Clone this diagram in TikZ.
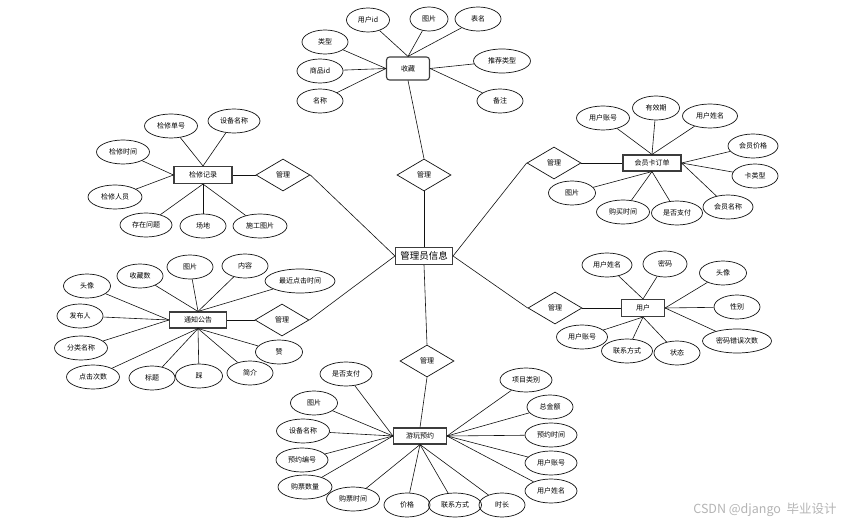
\documentclass[tikz,border=0pt]{standalone}
\usepackage{fontspec}
\setmainfont{Noto Sans CJK SC}
\usepackage{tikz}
\usetikzlibrary{shapes.geometric}
\definecolor{ink}{HTML}{111111}
\definecolor{framegray}{HTML}{3C3C3C}
\definecolor{markgray}{HTML}{B4B4B4}
\tikzset{
  entity/.style={rectangle, draw=framegray, line width=1.1pt, align=center, minimum height=16pt, minimum width=57pt, inner sep=1pt, font=\fontsize{7}{8}\selectfont, fill=white},
  mainent/.style={entity, minimum width=57pt, minimum height=17pt, font=\fontsize{9.5}{10}\selectfont},
  favent/.style={entity, rounded corners=3pt, minimum width=43pt, minimum height=23pt},
  attr/.style={ellipse, draw=ink, line width=0.7pt, minimum width=46pt, minimum height=24pt, inner sep=0pt, font=\fontsize{7}{8}\selectfont},
  rel/.style={diamond, draw=ink, line width=0.7pt, minimum width=54pt, minimum height=32pt, inner sep=0pt, font=\fontsize{7}{8}\selectfont},
  link/.style={draw=ink, line width=0.6pt}
}

\begin{document}
\begin{tikzpicture}[x=1pt, y=-1pt]
  \useasboundingbox (0,0) rectangle (864,526);
  % entities
  \node[mainent] (admin) at (424,256) {管理员信息};
  \node[favent] (fav) at (408,68.5) {收藏};
  \node[entity, minimum width=58pt, minimum height=17pt] (repair) at (203,175) {检修记录};
  \node[entity, minimum width=58pt] (card) at (652,163) {会员卡订单};
  \node[entity] (notice) at (198,320) {通知公告};
  \node[entity, minimum width=43pt, minimum height=17pt] (user) at (643,308) {用户};
  \node[entity, minimum width=53pt] (book) at (420,436) {游玩预约};
  % relations
  \node[rel] (mfav) at (424,175) {管理};
  \node[rel] (mrep) at (283,175) {管理};
  \node[rel] (mcard) at (554,163) {管理};
  \node[rel] (mnot) at (282,320) {管理};
  \node[rel] (muser) at (555,308) {管理};
  \node[rel] (mbook) at (427,361) {管理};
  % attributes of fav
  \node[attr, minimum width=43pt] (favuid) at (368,20) {用户id};
  \node[attr, minimum width=38pt] (favpic) at (429,19) {图片};
  \node[attr] (favtab) at (478,19) {表名};
  \node[attr] (favtype) at (325,42) {类型};
  \node[attr] (favgid) at (320,71) {商品id};
  \node[attr] (favname) at (320,101) {名称};
  \node[attr, minimum width=57pt] (favrec) at (502,61) {推荐类型};
  \node[attr] (favnote) at (500,101) {备注};
  % attributes of repair
  \node[attr, minimum width=53pt] (repno) at (171,126) {检修单号};
  \node[attr, minimum width=52pt] (repdev) at (234,121) {设备名称};
  \node[attr, minimum width=53pt] (reptime) at (123,152) {检修时间};
  \node[attr, minimum width=54pt] (repman) at (115,197) {检修人员};
  \node[attr, minimum width=52pt] (repprob) at (146,225) {存在问题};
  \node[attr] (repsite) at (203,226) {场地};
  \node[attr, minimum width=54pt] (reppic) at (260,226) {施工图片};
  % attributes of card
  \node[attr, minimum width=53pt] (cardacc) at (603,118) {用户账号};
  \node[attr, minimum width=47pt] (cardvalid) at (656,108) {有效期};
  \node[attr, minimum width=55pt] (cardname) at (710,116) {用户姓名};
  \node[attr, minimum width=50pt] (cardprice) at (753,146) {会员价格};
  \node[attr] (cardtype) at (755,176) {卡类型};
  \node[attr, minimum width=50pt] (cardvip) at (728,207) {会员名称};
  \node[attr, minimum width=51pt] (cardpaid) at (677,213) {是否支付};
  \node[attr, minimum width=53pt] (cardtime) at (623,212) {购买时间};
  \node[attr, minimum width=47pt] (cardpic) at (572,193) {图片};
  % attributes of notice
  \node[attr, minimum width=47pt] (nothead) at (87,286) {头像};
  \node[attr] (notfav) at (140,276) {收藏数};
  \node[attr] (notpic) at (190,267) {图片};
  \node[attr] (notcont) at (245,266) {内容};
  \node[attr, minimum width=70pt] (notlast) at (300,281) {最近点击时间};
  \node[attr] (notpub) at (80,316) {发布人};
  \node[attr, minimum width=53pt] (notcat) at (81,348) {分类名称};
  \node[attr, minimum width=53pt] (notclick) at (93,377) {点击次数};
  \node[attr] (nottitle) at (152,378) {标题};
  \node[attr, minimum width=47pt] (notdown) at (199,376) {踩};
  \node[attr] (notbrief) at (250,373) {简介};
  \node[attr, minimum width=47pt] (notlike) at (279,352) {赞};
  % attributes of user
  \node[attr, minimum width=50pt] (usrname) at (607,265) {用户姓名};
  \node[attr, minimum width=44pt, minimum height=26pt] (usrpwd) at (665,264) {密码};
  \node[attr, minimum width=47pt] (usrhead) at (723,273) {头像};
  \node[attr] (usrsex) at (737,307) {性别};
  \node[attr, minimum width=69pt] (usrerr) at (737,341) {密码错误次数};
  \node[attr] (usrstate) at (677,353) {状态};
  \node[attr, minimum width=51pt] (usrtel) at (627,351) {联系方式};
  \node[attr, minimum width=51pt] (usracc) at (582,337) {用户账号};
  % attributes of book
  \node[attr, minimum width=52pt] (bkpaid) at (346,374) {是否支付};
  \node[attr, minimum width=47pt] (bkpic) at (314,403) {图片};
  \node[attr, minimum width=53pt] (bkdev) at (303,431) {设备名称};
  \node[attr, minimum width=52pt] (bkno) at (302,460) {预约编号};
  \node[attr, minimum width=54pt] (bkqty) at (305,487) {购票数量};
  \node[attr, minimum width=53pt] (bktime) at (353,499) {购票时间};
  \node[attr] (bkprice) at (407,505) {价格};
  \node[attr, minimum width=53pt] (bktel) at (455,505) {联系方式};
  \node[attr] (bkdur) at (502,505) {时长};
  \node[attr, minimum width=52pt] (bkcat) at (526,380) {项目类别};
  \node[attr] (bksum) at (550,407) {总金额};
  \node[attr, minimum width=52pt] (bkdate) at (551,435) {预约时间};
  \node[attr, minimum width=52pt] (bkacc) at (551,463) {用户账号};
  \node[attr, minimum width=52pt] (bkname) at (551,491) {用户姓名};
  % watermark
  \node[text=markgray, font=\fontsize{12.5}{13}\selectfont] (mark) at (765,510) {CSDN @django\ \ 毕业设计};
  % links of fav
  \draw[link] (favuid) -- (fav.north);
  \draw[link] (favpic) -- (fav.north);
  \draw[link] (favtab) -- (fav.north);
  \draw[link] (favtype) -- (fav.west);
  \draw[link] (favgid) -- (fav.west);
  \draw[link] (favname) -- (fav.west);
  \draw[link] (favrec) -- (fav.east);
  \draw[link] (favnote) -- (fav.east);
  \draw[link] (fav.south) -- (mfav.north);
  \draw[link] (mfav.south) -- (admin.north);
  % links of repair
  \draw[link] (repno) -- (repair.north);
  \draw[link] (repdev) -- (repair.north);
  \draw[link] (reptime) -- (repair.west);
  \draw[link] (repman) -- (repair.west);
  \draw[link] (repprob) -- (repair.south);
  \draw[link] (repsite) -- (repair.south);
  \draw[link] (reppic) -- (repair.south);
  \draw[link] (repair.east) -- (mrep.west);
  \draw[link] (mrep.east) -- (admin.west);
  % links of card
  \draw[link] (cardacc) -- (card.north);
  \draw[link] (cardvalid) -- (card.north);
  \draw[link] (cardname) -- (card.north);
  \draw[link] (cardprice) -- (card.east);
  \draw[link] (cardtype) -- (card.east);
  \draw[link] (cardvip) -- (card.east);
  \draw[link] (cardpic) -- (card.south);
  \draw[link] (cardtime) -- (card.south);
  \draw[link] (cardpaid) -- (card.south);
  \draw[link] (card.west) -- (mcard.east);
  \draw[link] (mcard.west) -- (admin.east);
  % links of notice
  \draw[link] (notfav) -- (notice.north);
  \draw[link] (notpic) -- (notice.north);
  \draw[link] (notcont) -- (notice.north);
  \draw[link] (notlast) -- (notice.north);
  \draw[link] (nothead) -- (notice.west);
  \draw[link] (notpub) -- (notice.west);
  \draw[link] (notcat) -- (notice.west);
  \draw[link] (notclick) -- (notice.south);
  \draw[link] (nottitle) -- (notice.south);
  \draw[link] (notdown) -- (notice.south);
  \draw[link] (notbrief) -- (notice.south);
  \draw[link] (notlike) -- (notice.south);
  \draw[link] (notice.east) -- (mnot.west);
  \draw[link] (mnot.east) -- (admin.west);
  % links of user
  \draw[link] (usrname) -- (user.north);
  \draw[link] (usrpwd) -- (user.north);
  \draw[link] (usrhead) -- (user.east);
  \draw[link] (usrsex) -- (user.east);
  \draw[link] (usrerr) -- (user.east);
  \draw[link] (usracc) -- (user.south);
  \draw[link] (usrtel) -- (user.south);
  \draw[link] (usrstate) -- (user.south);
  \draw[link] (user.west) -- (muser.east);
  \draw[link] (muser.west) -- (admin.east);
  % links of book
  \draw[link] (bkpaid) -- (book.west);
  \draw[link] (bkpic) -- (book.west);
  \draw[link] (bkdev) -- (book.west);
  \draw[link] (bkno) -- (book.west);
  \draw[link] (bkqty) -- (book.west);
  \draw[link] (bktime) -- (book.south);
  \draw[link] (bkprice) -- (book.south);
  \draw[link] (bktel) -- (book.south);
  \draw[link] (bkdur) -- (book.south);
  \draw[link] (bkcat) -- (book.east);
  \draw[link] (bksum) -- (book.east);
  \draw[link] (bkdate) -- (book.east);
  \draw[link] (bkacc) -- (book.east);
  \draw[link] (bkname) -- (book.east);
  \draw[link] (book.north) -- (mbook.south);
  \draw[link] (mbook.north) -- (admin.south);
\end{tikzpicture}
\end{document}
